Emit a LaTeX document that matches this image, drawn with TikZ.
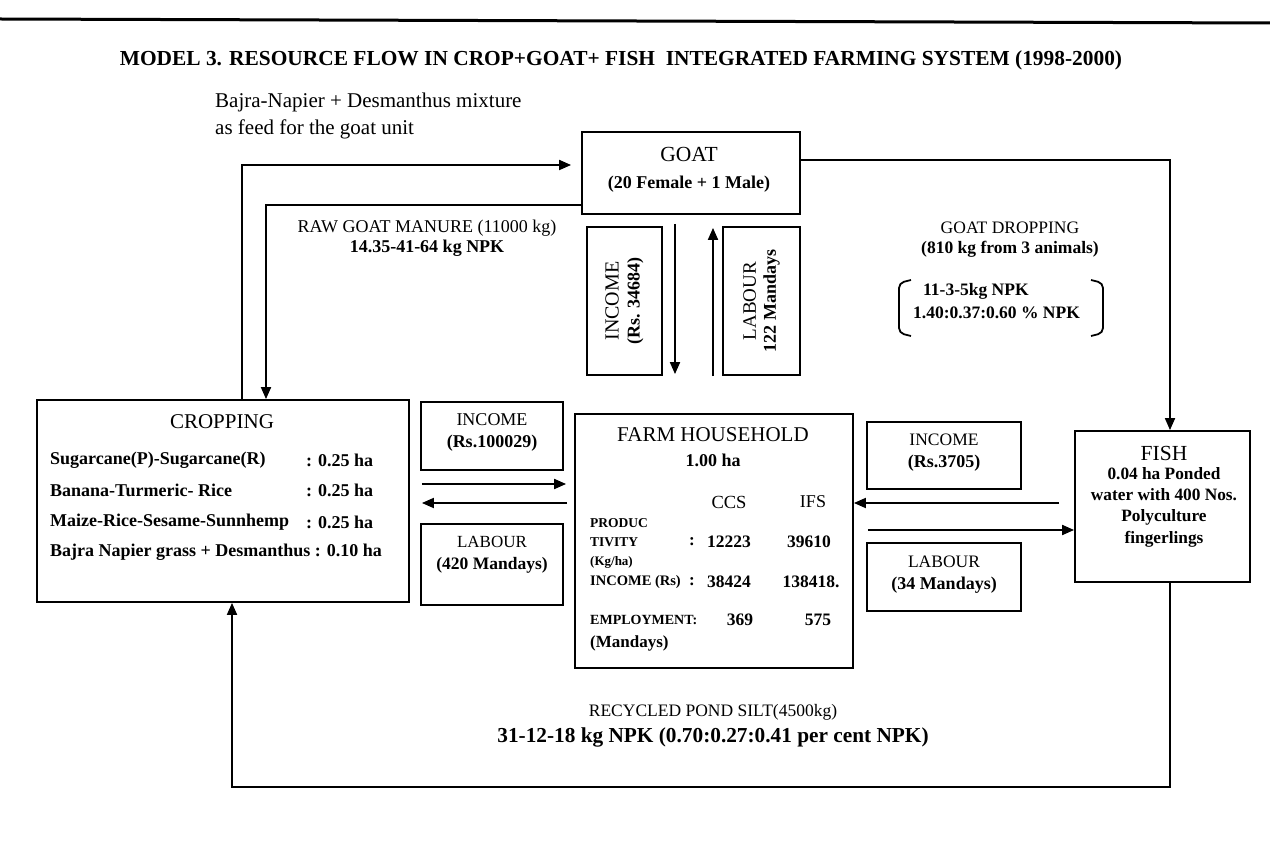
\documentclass[tikz,border=0pt]{standalone}
\usepackage{fontspec}
\setmainfont{Liberation Serif}
\usetikzlibrary{arrows.meta}
\newcommand{\fs}[1]{\fontsize{#1}{#1}\selectfont}
\tikzset{
  box/.style={draw, line width=1.8pt, inner sep=0pt},
  flow/.style={line width=1.8pt, -{Triangle[length=12pt,width=10pt]}},
  rule/.style={line width=1.8pt},
  lbl/.style={inner sep=0pt, align=center},
  row/.style={inner sep=0pt, anchor=west, font=\bfseries\fs{18}},
}
\begin{document}
\begin{tikzpicture}[x=1pt,y=-1pt]
\useasboundingbox[fill=white] (0,0) rectangle (1270,866);
% top rule
\coordinate (ruleL) at (0,19);
\coordinate (ruleR) at (1270,23);
\draw[line width=3pt] (ruleL) -- (ruleR);
% title
\node[lbl, font=\bfseries\fs{21.4}] (title) at (621,60) {MODEL 3. RESOURCE FLOW IN CROP+GOAT+ FISH\ \ INTEGRATED FARMING SYSTEM (1998-2000)};
\node[lbl, anchor=west, font=\fs{21}] (feedtxt1) at (215,102) {Bajra-Napier + Desmanthus mixture};
\node[lbl, anchor=west, font=\fs{21}] (feedtxt2) at (215,129) {as feed for the goat unit};
% boxes
\node[box, minimum width=218pt, minimum height=82pt] (goat) at (691,173) {};
\node[box, minimum width=75pt, minimum height=148pt] (incv) at (624.5,301) {};
\node[box, minimum width=77pt, minimum height=148pt] (labv) at (761.5,301) {};
\node[box, minimum width=372pt, minimum height=202pt] (crop) at (223,501) {};
\node[box, minimum width=142pt, minimum height=68pt] (incL) at (492,436) {};
\node[box, minimum width=142pt, minimum height=81pt] (labL) at (492,564.5) {};
\node[box, minimum width=278pt, minimum height=254pt] (fh) at (714,541) {};
\node[box, minimum width=154pt, minimum height=67pt] (incR) at (944,455.5) {};
\node[box, minimum width=154pt, minimum height=68pt] (labR) at (944,577) {};
\node[box, minimum width=175pt, minimum height=151pt] (fish) at (1162.5,506.5) {};
% goat texts
\node[lbl, font=\fs{21.5}] (goatT) at (689,154) {GOAT};
\node[lbl, font=\bfseries\fs{18}] (goatS) at (689,184) {(20 Female + 1 Male)};
% manure texts
\node[lbl, font=\fs{18}] (man1) at (427,228) {RAW GOAT MANURE (11000 kg)};
\node[lbl, font=\bfseries\fs{18}] (man2) at (427,248) {14.35-41-64 kg NPK};
% vertical boxes texts
\node[lbl, rotate=90, font=\fs{20}] (incvT) at (incv) {INCOME\\[1pt]{\bfseries\fs{18}(Rs. 34684)}};
\node[lbl, rotate=90, font=\fs{19}] (labvT) at (labv) {LABOUR\\[1pt]{\bfseries\fs{18}122 Mandays}};
% goat dropping
\node[lbl, font=\fs{17.5}] (gd1) at (1010,228) {GOAT DROPPING};
\node[lbl, font=\bfseries\fs{17.5}] (gd2) at (1010,249) {(810 kg from 3 animals)};
\node[lbl, anchor=west, font=\bfseries\fs{17.5}] (gd3) at (923,291) {11-3-5kg NPK};
\node[lbl, anchor=west, font=\bfseries\fs{17.5}] (gd4) at (913,313) {1.40:0.37:0.60 \% NPK};
\coordinate (bLt) at (911,280); \coordinate (bLb) at (911,336);
\coordinate (bRt) at (1091,280); \coordinate (bRb) at (1091,336);
\draw[rule, rounded corners=5pt] (bLt) -- ++(-12,3) -- ++(0,50) -- (bLb);
\draw[rule, rounded corners=5pt] (bRt) -- ++(12,3) -- ++(0,50) -- (bRb);
% cropping texts
\node[lbl, font=\fs{21}] (cropT) at (222,422) {CROPPING};
\node[row] (r1) at (50,460) {Sugarcane(P)-Sugarcane(R)};
\node[row] (r1b) at (306,460) {: 0.25 ha};
\node[row] (r2) at (50,490) {Banana-Turmeric- Rice};
\node[row] (r2b) at (306,490) {: 0.25 ha};
\node[row] (r3) at (50,522) {Maize-Rice-Sesame-Sunnhemp};
\node[row] (r3b) at (306,522) {: 0.25 ha};
\node[row] (r4) at (50,552) {Bajra Napier grass + Desmanthus : 0.10 ha};
% left income/labour
\node[lbl, font=\fs{18}] (incLT) at (492,420) {INCOME};
\node[lbl, font=\bfseries\fs{18}] (incLS) at (492,443) {(Rs.100029)};
\node[lbl, font=\fs{17}] (labLT) at (492,542) {LABOUR};
\node[lbl, font=\bfseries\fs{17.5}] (labLS) at (492,565) {(420 Mandays)};
% right income/labour
\node[lbl, font=\fs{17.5}] (incRT) at (944,440) {INCOME};
\node[lbl, font=\bfseries\fs{18}] (incRS) at (944,463) {(Rs.3705)};
\node[lbl, font=\fs{17.5}] (labRT) at (944,562) {LABOUR};
\node[lbl, font=\bfseries\fs{18}] (labRS) at (944,585) {(34 Mandays)};
% farm household
\node[lbl, font=\fs{21}] (fhT) at (713,435) {FARM HOUSEHOLD};
\node[lbl, font=\bfseries\fs{18}] (fhA) at (713,460) {1.00 ha};
\node[lbl, font=\fs{18.5}] (ccs) at (729,502) {CCS};
\node[lbl, font=\fs{18}] (ifs) at (813,502) {IFS};
\node[lbl, anchor=west, font=\bfseries\fs{13.5}] (p1) at (590,523) {PRODUC};
\node[lbl, anchor=west, font=\bfseries\fs{13.5}] (p2) at (590,542) {TIVITY};
\node[lbl, anchor=west, font=\bfseries\fs{13}] (p3) at (590,562) {(Kg/ha)};
\node[lbl, anchor=west, font=\bfseries\fs{14.5}] (p4) at (590,582) {INCOME (Rs)};
\node[lbl, anchor=west, font=\bfseries\fs{14}] (p5) at (590,620) {EMPLOYMENT:};
\node[lbl, anchor=west, font=\bfseries\fs{17}] (p6) at (590,643) {(Mandays)};
\node[lbl, font=\bfseries\fs{17}] (col1) at (692,542) {:};
\node[lbl, font=\bfseries\fs{17}] (col2) at (692,582) {:};
\node[lbl, font=\bfseries\fs{17.5}] (n1) at (729,542) {12223};
\node[lbl, font=\bfseries\fs{17.5}] (n2) at (809,542) {39610};
\node[lbl, font=\bfseries\fs{17.5}] (n3) at (729,582) {38424};
\node[lbl, font=\bfseries\fs{17.5}] (n4) at (811,582) {138418.};
\node[lbl, font=\bfseries\fs{17.5}] (n5) at (740,620) {369};
\node[lbl, font=\bfseries\fs{17.5}] (n6) at (818,620) {575};
% fish
\node[lbl, font=\fs{21.5}] (fishT) at (1164,453) {FISH};
\node[lbl, font=\bfseries\fs{17.3}, align=center] (fishS) at (1164,507) {0.04 ha Ponded\\[4pt]water with 400 Nos.\\[4pt]Polyculture\\[4pt]fingerlings};
% bottom texts
\node[lbl, font=\fs{17.5}] (silt1) at (713,712) {RECYCLED POND SILT(4500kg)};
\node[lbl, font=\bfseries\fs{21.3}] (silt2) at (713,737) {31-12-18 kg NPK (0.70:0.27:0.41 per cent NPK)};
% connectors
\coordinate (feedx) at (242,165);
\draw[flow, shorten >=10pt] (crop.north -| feedx) -- (feedx) -- (goat.west |- feedx);
\coordinate (manx) at (266,205);
\draw[flow] (goat.west |- manx) -- (manx) -- (crop.north -| manx);
\coordinate (gfx) at (1170,160);
\draw[flow] (goat.east |- gfx) -- (gfx) -- (fish.north -| gfx);
\coordinate (botR) at (1170,787);
\coordinate (botL) at (232,787);
\draw[flow] (fish.south -| botR) -- (botR) -- (botL) -- (crop.south -| botL);
\coordinate (dn) at (675,0);
\coordinate (up) at (713,0);
\draw[flow, shorten <=9pt, shorten >=39pt] (goat.south -| dn) -- (fh.north -| dn);
\draw[flow, shorten <=37pt, shorten >=13pt] (fh.north -| up) -- (goat.south -| up);
\coordinate (h1) at (0,484);
\coordinate (h2) at (0,503);
\coordinate (h3) at (0,530);
\draw[flow, shorten <=12pt, shorten >=8pt] (crop.east |- h1) -- (fh.west |- h1);
\draw[flow, shorten <=7pt, shorten >=12pt] (fh.west |- h2) -- (crop.east |- h2);
\draw[flow, shorten <=15pt] (fish.west |- h2) -- (fh.east |- h2);
\draw[flow, shorten <=14pt] (fh.east |- h3) -- (fish.west |- h3);
\end{tikzpicture}
\end{document}
